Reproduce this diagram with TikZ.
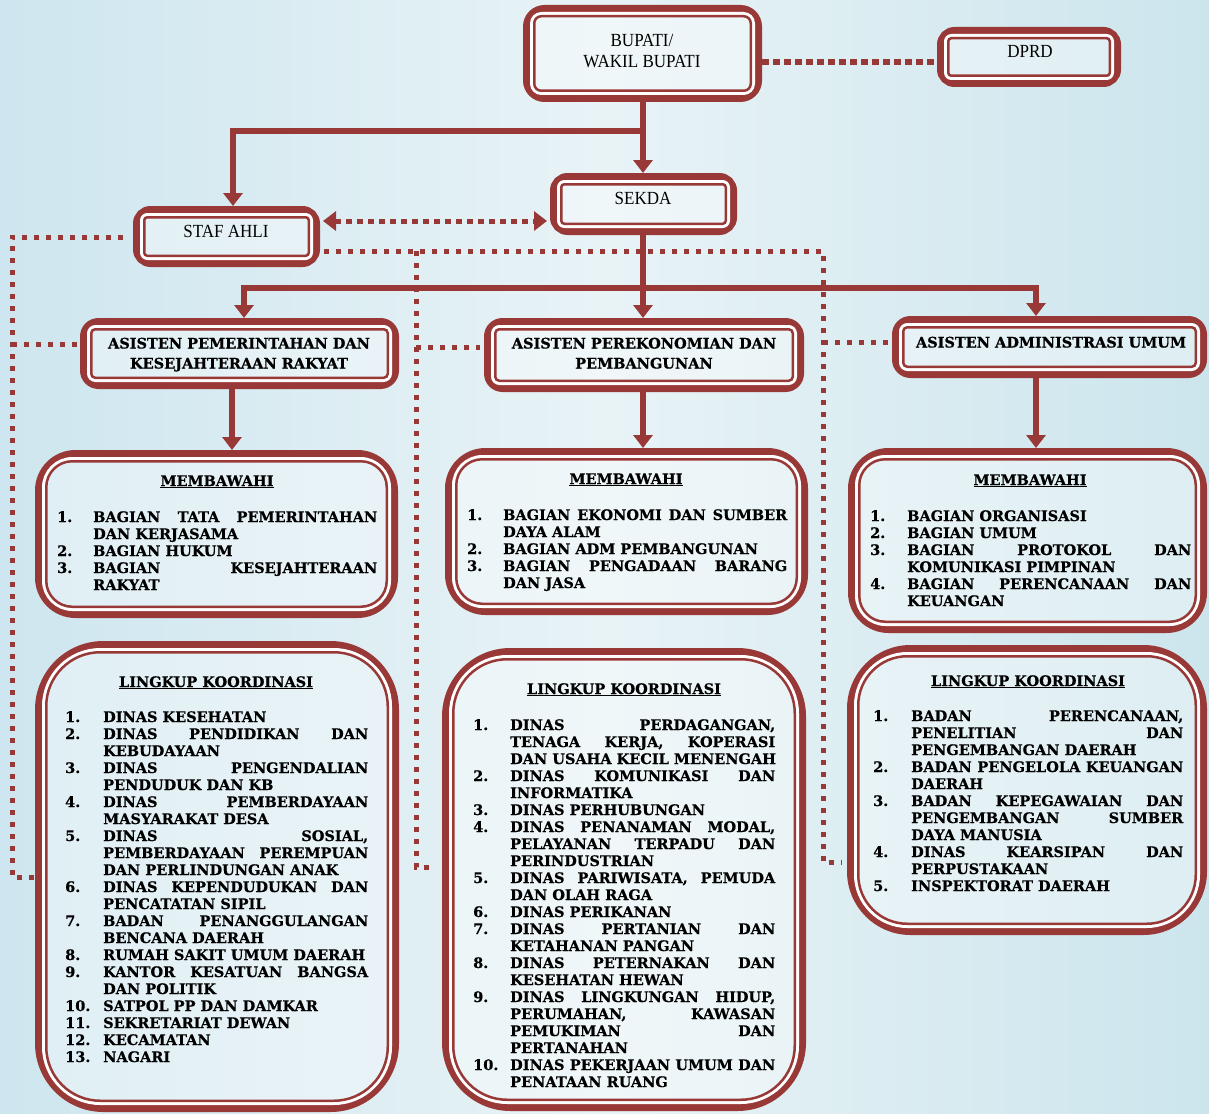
\documentclass[tikz,border=0pt]{standalone}
\usepackage{fontspec}
\usetikzlibrary{arrows.meta,calc}
\newfontfamily\hfont{Liberation Serif}[FakeStretch=0.92]
\newfontfamily\lfont{DejaVu Serif}[BoldFeatures={FakeBold=0.6}]
\definecolor{redc}{RGB}{153,57,55}
\definecolor{bgL}{RGB}{206,230,239}
\definecolor{bgM}{RGB}{232,243,246}
\definecolor{bgR}{RGB}{204,229,237}
\newcommand\ctwo[3]{\vtop{\baselineskip=#1\relax\halign{\hfil##\hfil\cr#2\cr#3\cr}}}
\newcommand\lst[3]{\vtop{\baselineskip=17pt\lineskiplimit=-20pt\def\numw{#1}\def\txtw{#2}#3}}
\newcommand\itemJ[2]{\hbox{\makebox[\numw][l]{#1}\makebox[\txtw][s]{#2}}}
\newcommand\itemL[2]{\hbox{\makebox[\numw][l]{#1}\makebox[\txtw][l]{#2}}}
\newcommand\mkbox[6]{%
  \node[boxn, rounded corners=#6, minimum width={#4-#2-7}, minimum height={#5-#3-7}] (#1) at ({(#2+#4)/2},{(#3+#5)/2}) {};
  \draw[white, line width=3pt, rounded corners={#6-8}] ($(#1.north west)+(8.5,8.5)$) rectangle ($(#1.south east)-(8.5,8.5)$);
  \draw[redc, line width=2.5pt, rounded corners={#6-11}] ($(#1.north west)+(11.25,11.25)$) rectangle ($(#1.south east)-(11.25,11.25)$);
}
\tikzset{
  boxn/.style={draw=redc, line width=7pt, fill=white, fill opacity=0.35, inner sep=0},
  conn/.style={draw=redc, line width=5.5pt},
  tip/.style={-{Triangle[width=19pt,length=13pt]}},
  tips/.style={{Triangle[width=19pt,length=13pt]}-{Triangle[width=19pt,length=13pt]}},
  dotA/.style={draw=redc, line width=5.5pt, dash pattern=on 7pt off 4pt},
  dotB/.style={draw=redc, line width=5pt, dash pattern=on 5pt off 7pt},
  htext/.style={anchor=base, inner sep=0, font=\hfont\fontsize{18.5}{22}\selectfont},
  btext/.style={anchor=base, inner sep=0, font=\lfont\bfseries\fontsize{14.5}{20}\selectfont},
  ltext/.style={anchor=base west, inner sep=0, font=\lfont\bfseries\fontsize{14.5}{17}\selectfont},
}
\begin{document}
\begin{tikzpicture}[x=1pt,y=-1pt]
\useasboundingbox (0,0) rectangle (1209,1113);
\shade[left color=bgL, right color=bgR, middle color=bgM] (0,0) rectangle (1209,1113);

% boxes
\mkbox{bupati}{523}{5}{762}{102}{18}
\mkbox{dprd}{937}{27}{1121}{87}{14}
\mkbox{sekda}{550}{173}{737}{235}{14}
\mkbox{staf}{133}{206}{320}{267}{14}
\mkbox{asisA}{80}{318}{399}{389}{15}
\mkbox{asisB}{484}{318}{804}{392}{15}
\mkbox{asisC}{892}{316}{1207}{378}{15}
\mkbox{membA}{35}{450}{398}{618}{37}
\mkbox{membB}{445}{448}{808}{615}{37}
\mkbox{membC}{848}{448}{1207}{633}{37}
\mkbox{lkA}{35}{641}{399}{1112}{65}
\mkbox{lkB}{442}{648}{806}{1111}{65}
\mkbox{lkC}{847}{645}{1207}{935}{60}

% solid connectors
\coordinate (bj) at (643,131);
\coordinate (lj) at (233,131);
\draw[conn,tip] (bj |- bupati.south) -- (bj) -- (lj) -- (lj |- staf.north);
\draw[conn,tip] (bj) -- (bj |- sekda.north);
\coordinate (hA) at (244,288);
\coordinate (hC) at (1036,288);
\draw[conn,tip] (bj |- sekda.south) -- (bj |- asisB.north);
\draw[conn,tips] (hA |- asisA.north) -- (hA) -- (hC) -- (hC |- asisC.north);
\coordinate (vA) at (232,0);
\draw[conn,tip] (vA |- asisA.south) -- (vA |- membA.north);
\draw[conn,tip] (bj |- asisB.south) -- (bj |- membB.north);
\draw[conn,tip] (hC |- asisC.south) -- (hC |- membC.north);

% dotted connectors
\coordinate (dp) at (0,62);
\draw[dotA] (bupati.east |- dp) -- (dprd.west |- dp);
\coordinate (ss) at (0,221);
\draw[dotB, dash pattern=on 6pt off 5pt, tips, shorten <=3pt, shorten >=3pt] (staf.east |- ss) -- (sekda.west |- ss);
\coordinate (L1) at (12,237);
\coordinate (L2) at (12,877);
\draw[dotB, shorten <=10pt] (staf.west |- L1) -- (L1) -- (L2) -- (lkA.west |- L2);
\coordinate (a1) at (12,344);
\draw[dotB, shorten >=3pt] (a1) -- (asisA.west |- a1);
\coordinate (M1) at (416,251);
\coordinate (M2) at (416,867);
\coordinate (R1) at (823,251);
\coordinate (R2) at (823,862);
\draw[dotB, shorten <=4pt, shorten >=5pt] (staf.east |- M1) -- (R1) -- (R2) -- (lkC.west |- R2);
\draw[dotB, shorten >=8pt] (M1) -- (M2) -- (lkB.west |- M2);
\coordinate (a2) at (416,347);
\draw[dotB, shorten >=4pt] (a2) -- (asisB.west |- a2);
\coordinate (a3) at (823,342);
\draw[dotB, shorten >=2pt] (a3) -- (asisC.west |- a3);

% header texts
\node[htext] (bupatiT) at (642,47) {\ctwo{21pt}{BUPATI/}{WAKIL BUPATI}};
\node[htext] (dprdT) at (1030,58) {DPRD};
\node[htext] (sekdaT) at (643,204) {SEKDA};
\node[htext] (stafT) at (226,237) {STAF AHLI};

\node[btext] (asisAT) at (239,348.5) {\ctwo{20pt}{ASISTEN PEMERINTAHAN DAN}{KESEJAHTERAAN RAKYAT}};
\node[btext] (asisBT) at (644,348.5) {\ctwo{20pt}{ASISTEN PEREKONOMIAN DAN}{PEMBANGUNAN}};
\node[btext] (asisCT) at (1051,347.5) {ASISTEN ADMINISTRASI UMUM};

% titles
\node[btext] (membAH) at (217,486) {\underline{MEMBAWAHI}};
\node[btext] (membBH) at (626,484) {\underline{MEMBAWAHI}};
\node[btext] (membCH) at (1030,485) {\underline{MEMBAWAHI}};
\node[btext] (lkAH) at (216,687) {\underline{LINGKUP KOORDINASI}};
\node[btext] (lkBH) at (624,694) {\underline{LINGKUP KOORDINASI}};
\node[btext] (lkCH) at (1028,686) {\underline{LINGKUP KOORDINASI}};

% lists
\node[ltext] (membAL) at (57,522) {\lst{36pt}{284pt}{%
\itemJ{1.}{BAGIAN TATA PEMERINTAHAN}
\itemL{}{DAN KERJASAMA}
\itemL{2.}{BAGIAN HUKUM}
\itemJ{3.}{BAGIAN KESEJAHTERAAN}
\itemL{}{RAKYAT}}};

\node[ltext] (membBL) at (467,520) {\lst{36pt}{284pt}{%
\itemJ{1.}{BAGIAN EKONOMI DAN SUMBER}
\itemL{}{DAYA ALAM}
\itemL{2.}{BAGIAN ADM PEMBANGUNAN}
\itemJ{3.}{BAGIAN PENGADAAN BARANG}
\itemL{}{DAN JASA}}};

\node[ltext] (membCL) at (870,521) {\lst{37pt}{284pt}{%
\itemL{1.}{BAGIAN ORGANISASI}
\itemL{2.}{BAGIAN UMUM}
\itemJ{3.}{BAGIAN PROTOKOL DAN}
\itemL{}{KOMUNIKASI PIMPINAN}
\itemJ{4.}{BAGIAN PERENCANAAN DAN}
\itemL{}{KEUANGAN}}};

\node[ltext] (lkAL) at (65,722) {\lst{38pt}{265pt}{%
\itemL{1.}{DINAS KESEHATAN}
\itemJ{2.}{DINAS PENDIDIKAN DAN}
\itemL{}{KEBUDAYAAN}
\itemJ{3.}{DINAS PENGENDALIAN}
\itemL{}{PENDUDUK DAN KB}
\itemJ{4.}{DINAS PEMBERDAYAAN}
\itemL{}{MASYARAKAT DESA}
\itemJ{5.}{DINAS SOSIAL,}
\itemJ{}{PEMBERDAYAAN PEREMPUAN}
\itemL{}{DAN PERLINDUNGAN ANAK}
\itemJ{6.}{DINAS KEPENDUDUKAN DAN}
\itemL{}{PENCATATAN SIPIL}
\itemJ{7.}{BADAN PENANGGULANGAN}
\itemL{}{BENCANA DAERAH}
\itemL{8.}{RUMAH SAKIT UMUM DAERAH}
\itemJ{9.}{KANTOR KESATUAN BANGSA}
\itemL{}{DAN POLITIK}
\itemL{10.}{SATPOL PP DAN DAMKAR}
\itemL{11.}{SEKRETARIAT DEWAN}
\itemL{12.}{KECAMATAN}
\itemL{13.}{NAGARI}}};

\node[ltext] (lkBL) at (473,730) {\lst{37pt}{265pt}{%
\itemJ{1.}{DINAS PERDAGANGAN,}
\itemJ{}{TENAGA KERJA, KOPERASI}
\itemL{}{DAN USAHA KECIL MENENGAH}
\itemJ{2.}{DINAS KOMUNIKASI DAN}
\itemL{}{INFORMATIKA}
\itemL{3.}{DINAS PERHUBUNGAN}
\itemJ{4.}{DINAS PENANAMAN MODAL,}
\itemJ{}{PELAYANAN TERPADU DAN}
\itemL{}{PERINDUSTRIAN}
\itemJ{5.}{DINAS PARIWISATA, PEMUDA}
\itemL{}{DAN OLAH RAGA}
\itemL{6.}{DINAS PERIKANAN}
\itemJ{7.}{DINAS PERTANIAN DAN}
\itemL{}{KETAHANAN PANGAN}
\itemJ{8.}{DINAS PETERNAKAN DAN}
\itemL{}{KESEHATAN HEWAN}
\itemJ{9.}{DINAS LINGKUNGAN HIDUP,}
\itemJ{}{PERUMAHAN, KAWASAN}
\itemJ{}{PEMUKIMAN DAN}
\itemL{}{PERTANAHAN}
\itemJ{10.}{DINAS PEKERJAAN UMUM DAN}
\itemL{}{PENATAAN RUANG}}};

\node[ltext] (lkCL) at (873,721) {\lst{38pt}{272pt}{%
\itemJ{1.}{BADAN PERENCANAAN,}
\itemJ{}{PENELITIAN DAN}
\itemL{}{PENGEMBANGAN DAERAH}
\itemJ{2.}{BADAN PENGELOLA KEUANGAN}
\itemL{}{DAERAH}
\itemJ{3.}{BADAN KEPEGAWAIAN DAN}
\itemJ{}{PENGEMBANGAN SUMBER}
\itemL{}{DAYA MANUSIA}
\itemJ{4.}{DINAS KEARSIPAN DAN}
\itemL{}{PERPUSTAKAAN}
\itemL{5.}{INSPEKTORAT DAERAH}}};
\end{tikzpicture}
\end{document}
